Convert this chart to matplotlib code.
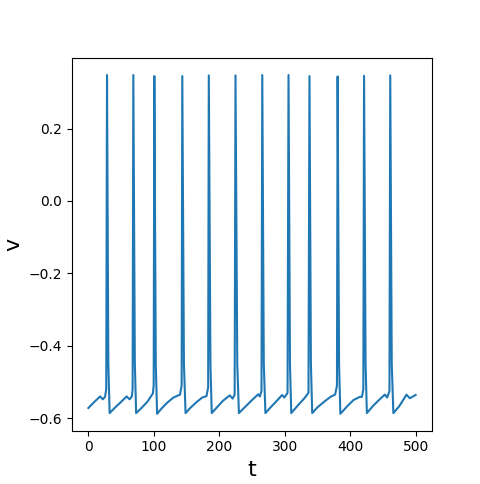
import numpy as np
import matplotlib as mpl

mpl.use('Agg')

import matplotlib.pyplot as plt

# membrane trace waypoints (t, v)
t = [0, 8, 18, 22, 25.5, 27.3, 28.5, 30.5, 32.5,
     40, 50, 58.5, 63, 66.5, 67.6, 68.7, 71, 73,
     80, 90, 98.5, 99.8, 100.8, 103, 105,
     112, 120, 130, 140, 142.5, 143.5, 146, 148.5,
     155, 165, 174, 180.5, 183, 184, 186.5, 188.5,
     195, 205, 216, 220.5, 223.5, 224.8, 227.5, 230,
     240, 250, 259.5, 262, 264.5, 265.7, 268, 270.5,
     280, 290, 296, 299.5, 304.3, 305.8, 308, 310,
     320, 330, 336.3, 337.8, 340, 342,
     350, 360, 370, 377, 379.8, 380.8, 383, 385,
     395, 405, 415, 418, 420.1, 421.2, 423.5, 425.5,
     435, 445, 453, 456.5, 460, 461.2, 463.5, 466,
     475, 486, 491, 496, 500]
v = [-0.572, -0.557, -0.540, -0.548, -0.541, -0.52, 0.348, -0.45, -0.586,
     -0.572, -0.555, -0.540, -0.548, -0.540, -0.52, 0.348, -0.45, -0.586,
     -0.574, -0.555, -0.532, -0.51, 0.345, -0.45, -0.588,
     -0.573, -0.558, -0.543, -0.535, -0.51, 0.345, -0.45, -0.586,
     -0.573, -0.556, -0.543, -0.539, -0.515, 0.347, -0.45, -0.586,
     -0.573, -0.553, -0.537, -0.546, -0.535, 0.347, -0.45, -0.586,
     -0.568, -0.550, -0.534, -0.540, -0.525, 0.348, -0.45, -0.586,
     -0.567, -0.548, -0.536, -0.543, -0.53, 0.348, -0.45, -0.586,
     -0.565, -0.545, -0.530, 0.345, -0.45, -0.586,
     -0.570, -0.555, -0.541, -0.535, -0.51, 0.344, -0.45, -0.588,
     -0.568, -0.550, -0.541, -0.541, -0.52, 0.346, -0.45, -0.586,
     -0.566, -0.548, -0.535, -0.543, -0.525, 0.347, -0.45, -0.586,
     -0.567, -0.535, -0.545, -0.540, -0.536]

fig = plt.figure(figsize=(4.8, 4.84), dpi=100)
ax = fig.add_axes([0.15, 0.11, 0.75, 0.77])
ax.plot(np.array(t), np.array(v))
ax.set_xlabel('t', fontsize=16)
ax.set_ylabel('v', fontsize=16)

fig.savefig('out.png', dpi=100)
